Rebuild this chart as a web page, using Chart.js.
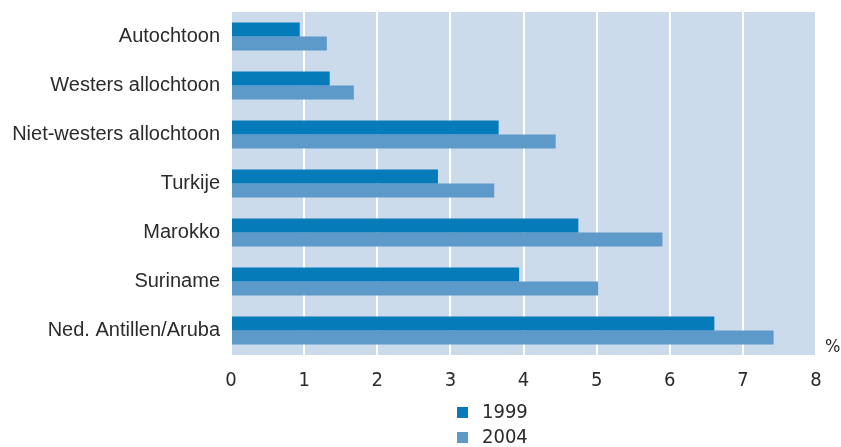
<!DOCTYPE html>
<html>
<head>
<meta charset="utf-8">
<script src="https://cdn.jsdelivr.net/npm/chart.js@4/dist/chart.umd.min.js"></script>
<style>
  html, body { margin: 0; padding: 0; background: #ffffff; }
  #wrap { position: relative; width: 841px; height: 447px; }
</style>
</head>
<body>
<div id="wrap"><canvas id="chart" width="841" height="447"></canvas></div>
<script>
// Groups and percentages per year
const groups = [
    'Autochtoon', 'Westers allochtoon', 'Niet-westers allochtoon',
    'Turkije', 'Marokko', 'Suriname', 'Ned. Antillen/Aruba'
];
const values1999 = [0.94, 1.35, 3.66, 2.83, 4.75, 3.94, 6.61];
const values2004 = [1.31, 1.68, 4.44, 3.60, 5.90, 5.02, 7.42];
const seriesLabels = ['1999', '2004'];
const xTicks = [0, 1, 2, 3, 4, 5, 6, 7, 8];

const narrowFont = "'Liberation Sans Narrow', 'DejaVu Sans Condensed', sans-serif";
const textColor = '#2b2b2b';

// light blue plot background behind the bars
const plotBackground = {
    id: 'plotBackground',
    beforeDraw(chart) {
        const a = chart.chartArea;
        const ctx = chart.ctx;
        ctx.save();
        ctx.fillStyle = '#cbdbeb';
        ctx.fillRect(a.left + 1, a.top, a.right - a.left - 1, a.bottom - a.top);
        ctx.restore();
    }
};

// unit sign and the stacked legend under the axis
const extras = {
    id: 'extras',
    afterDraw(chart) {
        const ctx = chart.ctx;
        const a = chart.chartArea;
        ctx.save();
        ctx.fillStyle = textColor;
        ctx.font = '18px ' + narrowFont;
        ctx.textBaseline = 'middle';
        ctx.textAlign = 'left';
        ctx.fillText('%', a.right + 9, a.bottom - 8);

        chart.data.datasets.forEach((ds, i) => {
            const y = 412 + i * 25;
            ctx.fillStyle = ds.backgroundColor;
            ctx.fillRect(457, y - 5, 11, 11);
            ctx.fillStyle = textColor;
            ctx.font = '20px ' + narrowFont;
            ctx.fillText(ds.label, 482, y + 1);
        });
        ctx.restore();
    }
};

new Chart(document.getElementById('chart').getContext('2d'), {
    type: 'bar',
    data: {
        labels: groups,
        datasets: [
            { label: seriesLabels[0], data: values1999, backgroundColor: '#067bb9' },
            { label: seriesLabels[1], data: values2004, backgroundColor: '#5d9ac9' }
        ]
    },
    options: {
        indexAxis: 'y',
        responsive: false,
        animation: false,
        layout: { padding: { top: 12, right: 25, left: 0, bottom: 0 } },
        datasets: {
            bar: { categoryPercentage: 0.572, barPercentage: 1.0, borderWidth: 0 }
        },
        plugins: {
            legend: { display: false },
            tooltip: { enabled: false },
            title: { display: false }
        },
        scales: {
            x: {
                min: 0,
                max: 8,
                afterBuildTicks(scale) {
                    scale.ticks = xTicks.map(v => ({ value: v }));
                },
                afterFit(scale) {
                    scale.height = 92;
                    scale.paddingLeft = 0;
                    scale.paddingRight = 0;
                },
                grid: { color: '#ffffff', lineWidth: 2, drawTicks: false },
                border: { display: false },
                ticks: {
                    padding: 14,
                    color: textColor,
                    font: { family: narrowFont, size: 20 }
                }
            },
            y: {
                afterFit(scale) {
                    scale.width = 231;
                    scale.paddingTop = 0;
                    scale.paddingBottom = 0;
                },
                grid: { display: false, drawTicks: false },
                border: { display: false },
                ticks: {
                    padding: 11,
                    color: textColor,
                    font: { family: "'Liberation Sans', Arial, sans-serif", size: 20 }
                }
            }
        }
    },
    plugins: [plotBackground, extras]
});
</script>
</body>
</html>
